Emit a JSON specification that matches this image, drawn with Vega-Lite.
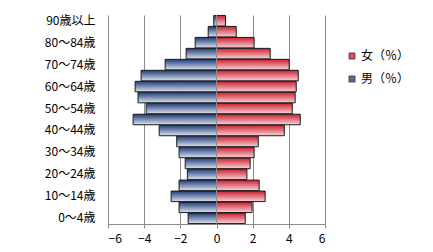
{
  "$schema": "https://vega.github.io/schema/vega-lite/v6.json",
  "autosize": {"type": "none"},
  "width": 217,
  "height": 209,
  "padding": {"left": 108, "top": 15, "right": 108, "bottom": 28},
  "background": "white",
  "config": {
    "view": {"stroke": null},
    "font": "Noto Sans CJK JP"
  },
  "data": {
    "values": [
      {"age": "90歳以上", "sex": "男（％）", "v": -0.15},
      {"age": "85～89歳", "sex": "男（％）", "v": -0.46},
      {"age": "80～84歳", "sex": "男（％）", "v": -1.18},
      {"age": "75～79歳", "sex": "男（％）", "v": -1.68},
      {"age": "70～74歳", "sex": "男（％）", "v": -2.84},
      {"age": "65～69歳", "sex": "男（％）", "v": -4.17},
      {"age": "60～64歳", "sex": "男（％）", "v": -4.5},
      {"age": "55～59歳", "sex": "男（％）", "v": -4.34},
      {"age": "50～54歳", "sex": "男（％）", "v": -3.89},
      {"age": "45～49歳", "sex": "男（％）", "v": -4.61},
      {"age": "40～44歳", "sex": "男（％）", "v": -3.17},
      {"age": "35～39歳", "sex": "男（％）", "v": -2.2},
      {"age": "30～34歳", "sex": "男（％）", "v": -2.07},
      {"age": "25～29歳", "sex": "男（％）", "v": -1.73},
      {"age": "20～24歳", "sex": "男（％）", "v": -1.61},
      {"age": "15～19歳", "sex": "男（％）", "v": -2.07},
      {"age": "10～14歳", "sex": "男（％）", "v": -2.51},
      {"age": "5～9歳", "sex": "男（％）", "v": -2.07},
      {"age": "0～4歳", "sex": "男（％）", "v": -1.57},
      {"age": "90歳以上", "sex": "女（％）", "v": 0.5},
      {"age": "85～89歳", "sex": "女（％）", "v": 1.09},
      {"age": "80～84歳", "sex": "女（％）", "v": 2.08},
      {"age": "75～79歳", "sex": "女（％）", "v": 2.97},
      {"age": "70～74歳", "sex": "女（％）", "v": 4.02},
      {"age": "65～69歳", "sex": "女（％）", "v": 4.52},
      {"age": "60～64歳", "sex": "女（％）", "v": 4.41},
      {"age": "55～59歳", "sex": "女（％）", "v": 4.35},
      {"age": "50～54歳", "sex": "女（％）", "v": 4.19},
      {"age": "45～49歳", "sex": "女（％）", "v": 4.63},
      {"age": "40～44歳", "sex": "女（％）", "v": 3.75},
      {"age": "35～39歳", "sex": "女（％）", "v": 2.31},
      {"age": "30～34歳", "sex": "女（％）", "v": 2.08},
      {"age": "25～29歳", "sex": "女（％）", "v": 1.86},
      {"age": "20～24歳", "sex": "女（％）", "v": 1.68},
      {"age": "15～19歳", "sex": "女（％）", "v": 2.36},
      {"age": "10～14歳", "sex": "女（％）", "v": 2.69},
      {"age": "5～9歳", "sex": "女（％）", "v": 1.97},
      {"age": "0～4歳", "sex": "女（％）", "v": 1.59}
    ]
  },
  "encoding": {
    "y": {
      "field": "age",
      "type": "nominal",
      "sort": ["90歳以上","85～89歳","80～84歳","75～79歳","70～74歳","65～69歳","60～64歳","55～59歳","50～54歳","45～49歳","40～44歳","35～39歳","30～34歳","25～29歳","20～24歳","15～19歳","10～14歳","5～9歳","0～4歳"],
      "scale": {"paddingInner": 0.04, "paddingOuter": 0.04},
      "axis": {
        "title": null,
        "values": ["90歳以上","80～84歳","70～74歳","60～64歳","50～54歳","40～44歳","30～34歳","20～24歳","10～14歳","0～4歳"],
        "domain": false,
        "ticks": false,
        "grid": false,
        "labelPadding": 13,
        "labelFontSize": 12,
        "labelColor": "#000"
      }
    },
    "x": {
      "field": "v",
      "type": "quantitative",
      "scale": {"domain": [-6, 6], "nice": false},
      "axis": {
        "title": null,
        "values": [-6, -4, -2, 0, 2, 4, 6],
        "format": "d",
        "grid": true,
        "gridColor": "#8c8c8c",
        "gridWidth": 1,
        "domainColor": "#8c8c8c",
        "tickColor": "#8c8c8c",
        "tickSize": 4,
        "labelPadding": 5,
        "labelFontSize": 12,
        "labelColor": "#000"
      }
    }
  },
  "layer": [
    {
      "transform": [{"filter": "datum.sex === '男（％）'"}],
      "mark": {
        "type": "bar", "stroke": "#1a1a1a", "strokeWidth": 1, "orient": "horizontal",
        "color": {"gradient": "linear", "x1": 0, "y1": 0, "x2": 0, "y2": 1, "stops": [{"offset": 0, "color": "#1e3a78"}, {"offset": 1, "color": "#dde3ef"}]}
      }
    },
    {
      "transform": [{"filter": "datum.sex === '女（％）'"}],
      "mark": {
        "type": "bar", "stroke": "#1a1a1a", "strokeWidth": 1, "orient": "horizontal",
        "color": {"gradient": "linear", "x1": 0, "y1": 0, "x2": 0, "y2": 1, "stops": [{"offset": 0, "color": "#cc1f30"}, {"offset": 1, "color": "#f7d3d8"}]}
      }
    },
    {
      "mark": {"type": "bar", "opacity": 0, "orient": "horizontal"},
      "encoding": {
        "color": {
          "field": "sex",
          "type": "nominal",
          "scale": {"domain": ["女（％）", "男（％）"], "range": ["#d9505f", "#5a6d9c"]},
          "legend": {
            "title": null,
            "orient": "none",
            "legendX": 238,
            "legendY": 35,
            "symbolType": "square",
            "symbolSize": 36,
            "symbolOpacity": 1,
            "symbolStrokeColor": "#333",
            "symbolStrokeWidth": 0.8,
            "labelFontSize": 12,
            "labelOffset": 3,
            "labelColor": "#000",
            "rowPadding": 11
          }
        }
      }
    },
    {
      "mark": {"type": "rule", "color": "#8c8c8c", "strokeWidth": 1},
      "encoding": {"x": {"datum": 0}, "y": {}}
    }
  ]
}
